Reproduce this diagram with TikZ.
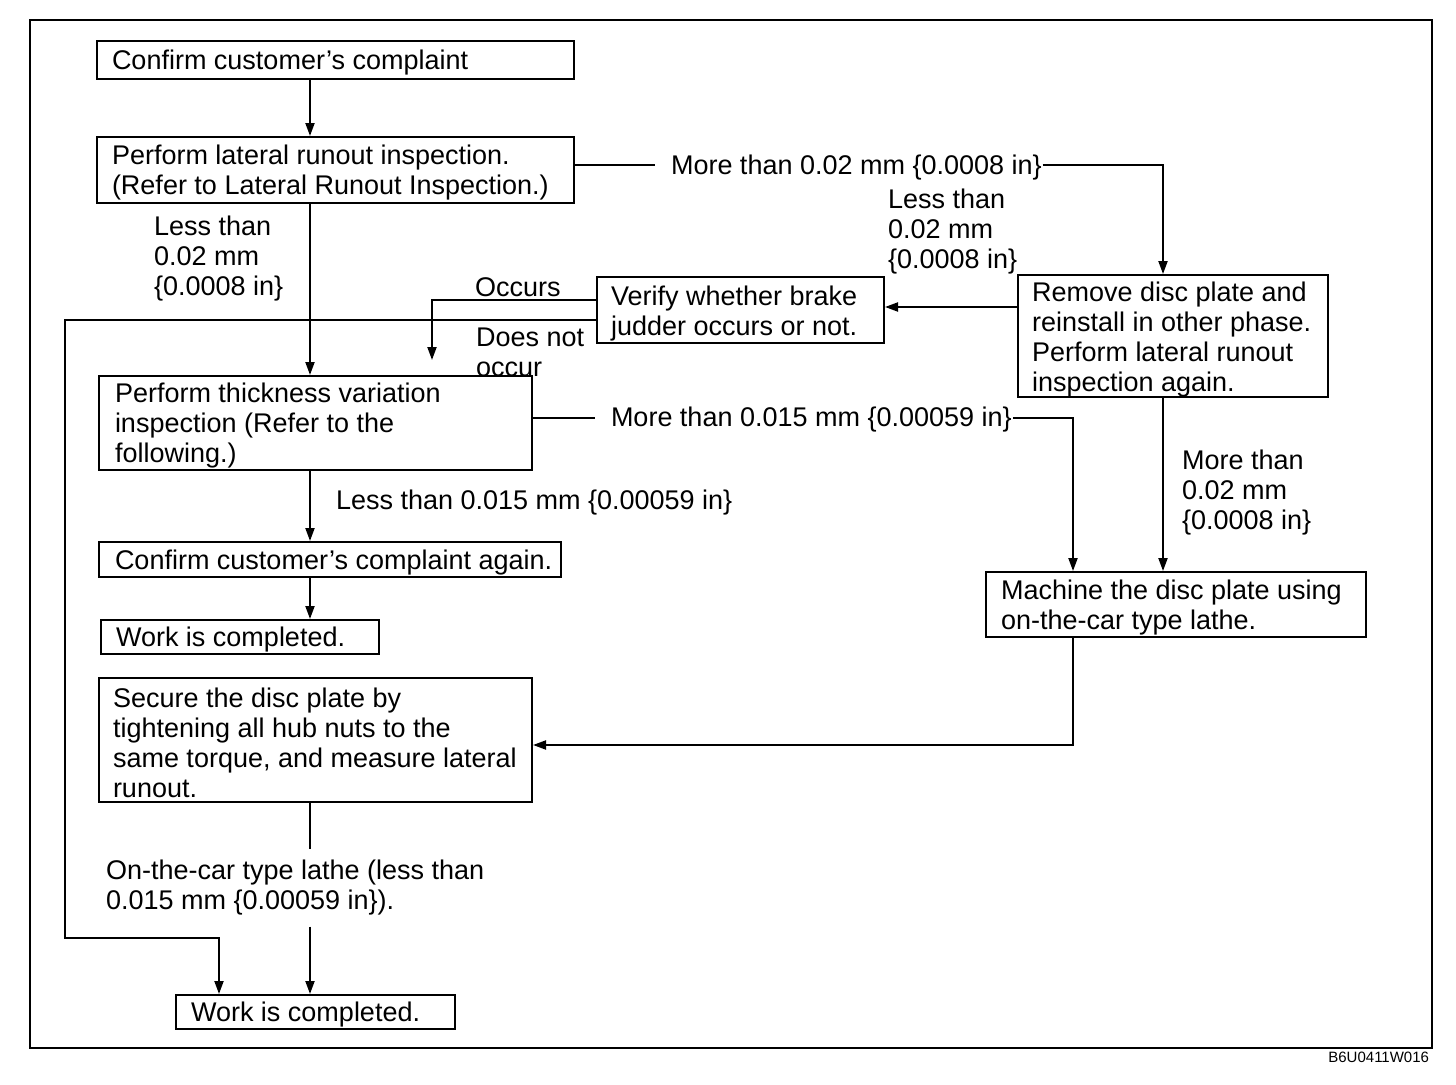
\documentclass[tikz,border=0pt]{standalone}
\usepackage{fontspec}
\setmainfont{Liberation Sans}
\usetikzlibrary{arrows.meta,calc}
\begin{document}
\begin{tikzpicture}[x=1pt,y=-1pt,
  line width=2pt,
  box/.style={draw,line width=2pt,inner sep=0pt},
  txt/.style={anchor=west,align=left,inner sep=0pt,yshift=-3pt,font=\fontsize{27}{30}\selectfont},
  lbl/.style={anchor=west,align=left,inner sep=0pt,yshift=-3pt,font=\fontsize{27}{30}\selectfont},
  arr/.style={-{Triangle[length=13pt,width=9pt]}}]
\useasboundingbox (0,0) rectangle (1456,1084);
\draw[line width=2pt] (30,20) rectangle (1432,1048);
\node[anchor=east,inner sep=0pt,font=\fontsize{15}{16}\selectfont] (code) at (1430,1057) {B6U0411W016};

% column coordinates
\coordinate (cx) at (310,0);
\coordinate (c4) at (1163,0);
\coordinate (c9) at (1073,0);
\coordinate (cdn) at (219,0);
\coordinate (occ) at (432,360);
\coordinate (dn1) at (65,938);

% boxes
\node[box,minimum width=477,minimum height=38] (b1) at (335.5,60) {};
\node[txt] (b1t) at (111,60) {Confirm customer’s complaint};
\node[box,minimum width=477,minimum height=66] (b2) at (335.5,170) {};
\node[txt] (b2t) at (111,170) {Perform lateral runout inspection.\\(Refer to Lateral Runout Inspection.)};
\node[box,minimum width=287,minimum height=66] (b3) at (740.5,310) {};
\node[txt] (b3t) at (610,311) {Verify whether brake\\judder occurs or not.};
\node[box,minimum width=310,minimum height=122] (b4) at (1173,336) {};
\node[txt] (b4t) at (1031,337) {Remove disc plate and\\reinstall in other phase.\\Perform lateral runout\\inspection again.};
\node[box,minimum width=433,minimum height=94] (b5) at (315.5,423) {};
\node[txt] (b5t) at (114,423) {Perform thickness variation\\inspection (Refer to the\\following.)};
\node[box,minimum width=462,minimum height=35] (b6) at (330,559.5) {};
\node[txt] (b6t) at (114,559.5) {Confirm customer’s complaint again.};
\node[box,minimum width=278,minimum height=34] (b7) at (240,637) {};
\node[txt] (b7t) at (115,637) {Work is completed.};
\node[box,minimum width=433,minimum height=124] (b8) at (315.5,740) {};
\node[txt] (b8t) at (112,740) {Secure the disc plate by\\tightening all hub nuts to the\\same torque, and measure lateral\\runout.};
\node[box,minimum width=380,minimum height=65] (b9) at (1176,604.5) {};
\node[txt] (b9t) at (1000,604.5) {Machine the disc plate using\\on-the-car type lathe.};
\node[box,minimum width=279,minimum height=34] (b10) at (315.5,1012) {};
\node[txt] (b10t) at (190,1012) {Work is completed.};

% labels
\node[lbl] (l0) at (153,256) {Less than\\0.02 mm\\\{0.0008 in\}};
\node[lbl] (l1) at (670,165) {More than 0.02 mm \{0.0008 in\}};
\node[lbl] (l2) at (887,229) {Less than\\0.02 mm\\\{0.0008 in\}};
\node[lbl] (locc) at (474,284) {Occurs};
\node[lbl] (ldn) at (475,349) {Does not\\occur};
\node[lbl] (l3) at (610,417) {More than 0.015 mm \{0.00059 in\}};
\node[lbl] (l4) at (1181,490) {More than\\0.02 mm\\\{0.0008 in\}};
\node[lbl] (l6) at (335,500) {Less than 0.015 mm \{0.00059 in\}};
\node[lbl] (l5) at (105,885) {On-the-car type lathe (less than\\0.015 mm \{0.00059 in\}).};

% connectors
\coordinate (y1) at (0,165);
\coordinate (y3) at (0,418);
\draw[arr] (b1.south -| cx) -- (b2.north -| cx);
\draw[arr] (b2.south -| cx) -- (b5.north -| cx);
\draw (b2.east |- y1) -- ([xshift=-15pt]l1.west |- y1);
\draw[arr] (l1.east |- y1) -| (b4.north -| c4);
\draw[arr] ([yshift=3pt]b4.west |- b3.east) -- ([yshift=3pt]b3.east);
\draw[arr] ([yshift=10pt]b3.west) -| (occ);
\draw[arr] ([yshift=-10pt]b3.west) -| (dn1) -| (b10.north -| cdn);
\draw (b5.east |- y3) -- ([xshift=-15pt]l3.west |- y3);
\draw[arr] (l3.east |- y3) -| (b9.north -| c9);
\draw[arr] (b4.south -| c4) -- (b9.north -| c4);
\draw[arr] (b5.south -| cx) -- (b6.north -| cx);
\draw[arr] (b6.south -| cx) -- (b7.north -| cx);
\draw[arr] (b9.south -| c9) |- ([yshift=-5pt]b8.east);
\draw (b8.south -| cx) -- ([yshift=10pt]l5.north -| cx);
\draw[arr] ([yshift=-10pt]l5.south -| cx) -- (b10.north -| cx);
\end{tikzpicture}
\end{document}
